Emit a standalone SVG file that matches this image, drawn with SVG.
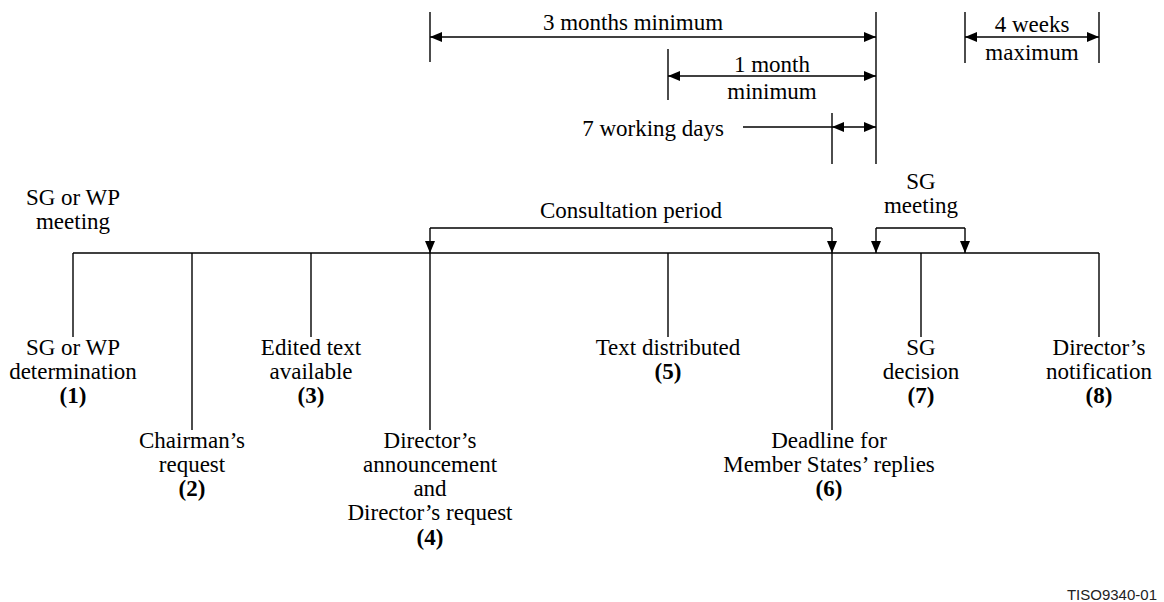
<svg xmlns="http://www.w3.org/2000/svg" width="1164" height="602" viewBox="0 0 1164 602">
<style>
text{font-family:"Liberation Serif","Times New Roman",serif;font-size:23px;fill:#000;text-anchor:middle}
.b{font-weight:bold}
.ln{stroke:#000;stroke-width:1.4;fill:none}
.ar{stroke:#000;stroke-width:1.4;fill:none;marker-end:url(#ah)}
.ar2{stroke:#000;stroke-width:1.4;fill:none;marker-start:url(#ah);marker-end:url(#ah)}
.tag{font-family:"Liberation Sans",Arial,sans-serif;font-size:15px;text-anchor:end;fill:#222}
</style>
<defs>
<marker id="ah" viewBox="0 0 12 10" refX="12" refY="5" markerWidth="12" markerHeight="10" markerUnits="userSpaceOnUse" orient="auto-start-reverse">
<path d="M0,0 L12,5 L0,10 z" fill="#000"/>
</marker>
</defs>
<rect width="1164" height="602" fill="#fff"/>

<g id="connectors">
  <!-- timeline -->
  <line class="ln" x1="73" y1="253" x2="1099" y2="253"/>
  <!-- event drop lines -->
  <line class="ln" x1="73" y1="253" x2="73" y2="337"/>
  <line class="ln" x1="192" y1="253" x2="192" y2="430"/>
  <line class="ln" x1="311" y1="253" x2="311" y2="337"/>
  <line class="ln" x1="430" y1="253" x2="430" y2="430"/>
  <line class="ln" x1="668" y1="253" x2="668" y2="337"/>
  <line class="ln" x1="832" y1="253" x2="832" y2="430"/>
  <line class="ln" x1="921" y1="253" x2="921" y2="337"/>
  <line class="ln" x1="1099" y1="253" x2="1099" y2="337"/>
  <!-- consultation period bracket -->
  <path class="ln" d="M430,228 L832,228"/>
  <line class="ar" x1="430" y1="228" x2="430" y2="253"/>
  <line class="ar" x1="832" y1="228" x2="832" y2="253"/>
  <!-- SG meeting bracket -->
  <path class="ln" d="M876,228 L965,228"/>
  <line class="ar" x1="876" y1="228" x2="876" y2="253"/>
  <line class="ar" x1="965" y1="228" x2="965" y2="253"/>
  <!-- dimension extension lines -->
  <line class="ln" x1="430" y1="12" x2="430" y2="62"/>
  <line class="ln" x1="876" y1="12" x2="876" y2="164"/>
  <line class="ln" x1="668" y1="49" x2="668" y2="100"/>
  <line class="ln" x1="832" y1="113" x2="832" y2="164"/>
  <line class="ln" x1="965" y1="12" x2="965" y2="63"/>
  <line class="ln" x1="1099" y1="12" x2="1099" y2="63"/>
  <!-- dimension arrows -->
  <line class="ar2" x1="430" y1="37" x2="876" y2="37"/>
  <line class="ar2" x1="668" y1="76" x2="876" y2="76"/>
  <line class="ar2" x1="832" y1="127" x2="876" y2="127"/>
  <line class="ln" x1="743" y1="127" x2="832" y2="127"/>
  <line class="ar2" x1="965" y1="37" x2="1099" y2="37"/>
</g>

<g id="dim-3months"><text x="633" y="30">3 months minimum</text></g>
<g id="dim-1month"><text x="772" y="72">1 month</text><text x="772" y="99">minimum</text></g>
<g id="dim-7days"><text x="724" y="136" style="text-anchor:end">7 working days</text></g>
<g id="dim-4weeks"><text x="1032" y="32">4 weeks</text><text x="1032" y="60">maximum</text></g>

<g id="sg-wp-meeting"><text x="73" y="205">SG or WP</text><text x="73" y="229">meeting</text></g>
<g id="consultation-period"><text x="631" y="218">Consultation period</text></g>
<g id="sg-meeting"><text x="921" y="189">SG</text><text x="921" y="213">meeting</text></g>

<g id="event-1"><text x="73" y="355">SG or WP</text><text x="73" y="379">determination</text><text class="b" x="73" y="403">(1)</text></g>
<g id="event-2"><text x="192" y="448">Chairman’s</text><text x="192" y="472">request</text><text class="b" x="192" y="496">(2)</text></g>
<g id="event-3"><text x="311" y="355">Edited text</text><text x="311" y="379">available</text><text class="b" x="311" y="403">(3)</text></g>
<g id="event-4"><text x="430" y="448">Director’s</text><text x="430" y="472">announcement</text><text x="430" y="496">and</text><text x="430" y="520">Director’s request</text><text class="b" x="430" y="545">(4)</text></g>
<g id="event-5"><text x="668" y="355">Text distributed</text><text class="b" x="668" y="379">(5)</text></g>
<g id="event-6"><text x="829" y="448">Deadline for</text><text x="829" y="472">Member States’ replies</text><text class="b" x="829" y="496">(6)</text></g>
<g id="event-7"><text x="921" y="355">SG</text><text x="921" y="379">decision</text><text class="b" x="921" y="403">(7)</text></g>
<g id="event-8"><text x="1099" y="355">Director’s</text><text x="1099" y="379">notification</text><text class="b" x="1099" y="403">(8)</text></g>

<g id="figure-tag"><text class="tag" x="1157" y="600">TISO9340-01</text></g>
</svg>
